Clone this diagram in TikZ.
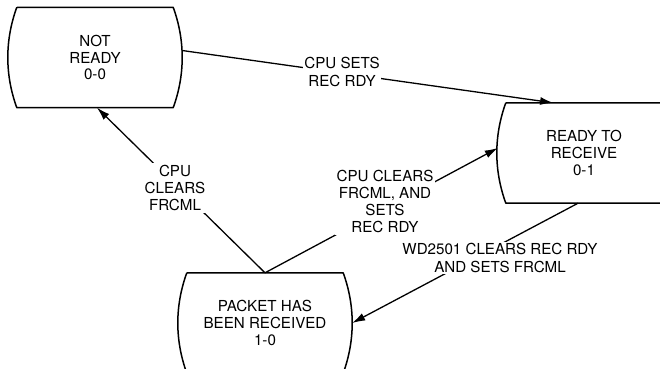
\documentclass[tikz,border=0pt]{standalone}
\usepackage{fontspec}
\setmainfont{TeX Gyre Heros}
\usetikzlibrary{arrows.meta}

% outline of a state: flat top and bottom, sides bowed outwards
\newcommand\bulgebox[1]{%
  \draw[outline] (#1.north west) -- (#1.north east)
    .. controls +(12,33) and +(12,-33) .. (#1.south east)
    -- (#1.south west)
    .. controls +(-12,-33) and +(-12,33) .. (#1.north west);}

\begin{document}
\begin{tikzpicture}[x=1bp,y=-1bp,
  statebox/.style={minimum width=156bp, minimum height=100bp, inner sep=0pt,
    align=center, font=\fontsize{15.2}{17}\selectfont},
  tag/.style={fill=white, inner sep=1.5bp, align=center,
    font=\fontsize{15.2}{17.3}\selectfont},
  flow/.style={line width=1.3bp, -{Latex[length=13bp,width=8bp]}},
  outline/.style={line width=1.5bp, line join=round}]

\useasboundingbox (0,0) rectangle (660,368);

% states
\node[statebox] (nr) at (95,57.5) {NOT\\READY\\0-0};
\node[statebox] (rr) at (584,153) {READY TO\\RECEIVE\\0-1};
\node[statebox] (pk) at (265,323) {PACKET HAS\\BEEN RECEIVED\\1-0};
\bulgebox{nr}
\bulgebox{rr}
\bulgebox{pk}

% transitions
\draw[flow] ([shift={(9,-7)}]nr.east) -- ([xshift=-31]rr.north);
\draw[flow] (pk.north) -- ([xshift=2]nr.south);
\draw[flow] (pk.north) -- ([shift={(-8,-5)}]rr.west);
\draw[flow] ([xshift=-6]rr.south) -- ([xshift=9]pk.east);

% transition labels, set over the lines
\node[tag] (l1) at (342,72) {CPU SETS\\REC RDY};
\node[tag] (l2) at (175,188) {CPU\\CLEARS\\FRCML};
\node[tag] (l3) at (385,201.5) {CPU CLEARS\\FRCML, AND\\SETS\\REC RDY};
\node[tag] (l4) at (500,258) {WD2501 CLEARS REC RDY\\AND SETS FRCML};

\end{tikzpicture}
\end{document}
